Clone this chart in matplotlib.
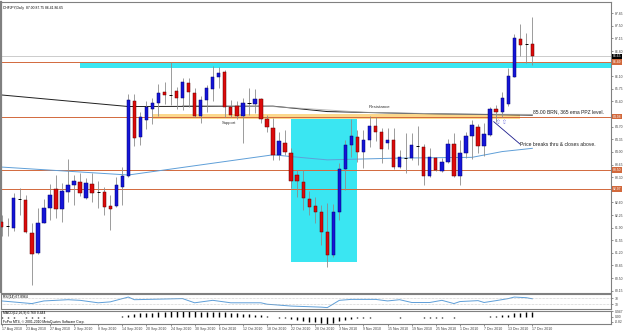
import numpy as np
import matplotlib.pyplot as plt
from matplotlib.transforms import blended_transform_factory
from matplotlib.patches import Rectangle

plt.rcParams['font.family'] = ['Liberation Sans', 'DejaVu Sans']

# daily OHLC, CHFJPY 17 Aug 2010 .. 17 Dec 2010
opens = [82.05, 81.95, 81.90, 82.70, 82.67, 81.76, 81.19, 82.04, 82.44, 82.97,
         82.42, 82.90, 83.08, 83.17, 82.73, 83.10, 82.88, 82.88, 82.51, 82.51,
         83.04, 83.34, 85.42, 84.41, 84.89, 85.20, 85.37, 85.67, 85.58, 85.69,
         85.51, 85.91, 85.63, 85.00, 85.44, 85.74, 86.09, 86.22, 85.26, 85.28,
         85.01, 85.35, 85.33, 85.46, 84.91, 84.66, 83.92, 84.26, 83.98, 83.36,
         83.16, 82.69, 82.50, 82.33, 81.77, 81.14, 82.33, 83.52, 84.19, 84.41,
         83.99, 84.33, 84.72, 84.56, 84.24, 84.33, 83.59, 83.83, 83.83, 84.17,
         84.15, 83.34, 83.83, 83.48, 83.73, 84.22, 83.34, 83.96, 84.43, 84.70,
         84.17, 84.47, 85.18, 85.12, 85.32, 86.09, 87.13, 86.99, 87.00]
closes = [81.93, 81.95, 82.72, 82.70, 81.78, 81.16, 82.04, 82.44, 82.81, 82.42,
          82.91, 83.09, 83.19, 82.87, 83.13, 82.85, 82.88, 82.48, 82.43, 83.08,
          83.33, 85.44, 84.40, 84.96, 85.24, 85.35, 85.63, 85.59, 85.58, 85.51,
          85.93, 85.65, 85.00, 85.44, 85.77, 86.07, 86.20, 85.26, 85.03, 85.01,
          85.35, 85.35, 85.46, 84.91, 84.69, 83.92, 84.29, 83.99, 83.20, 83.18,
          82.72, 82.47, 82.34, 81.79, 81.14, 82.34, 83.53, 84.19, 84.44, 84.01,
          84.33, 84.72, 84.56, 84.08, 84.33, 83.59, 83.85, 83.83, 84.20, 84.17,
          83.34, 83.85, 83.50, 83.73, 84.22, 83.34, 83.96, 84.44, 84.75, 84.17,
          84.50, 85.18, 85.12, 85.49, 86.11, 87.16, 86.97, 86.99, 86.65]
highs = [82.25, 82.16, 82.85, 82.99, 82.81, 82.02, 82.44, 82.69, 83.11, 83.36,
         83.15, 83.81, 83.36, 83.41, 83.27, 83.41, 83.20, 83.04, 82.81, 83.31,
         83.59, 85.60, 85.60, 85.12, 85.40, 85.49, 85.89, 85.95, 86.49, 85.80,
         86.06, 86.05, 85.77, 85.54, 85.86, 86.39, 86.35, 86.28, 85.43, 85.40,
         85.49, 85.77, 85.74, 85.49, 85.03, 84.94, 84.56, 84.61, 84.10, 83.50,
         83.50, 82.93, 82.76, 82.53, 82.58, 82.56, 83.69, 84.33, 84.91, 84.61,
         84.61, 85.00, 84.96, 84.66, 84.66, 84.66, 84.06, 84.52, 84.52, 84.72,
         84.22, 84.10, 83.87, 83.83, 84.35, 84.52, 84.33, 84.56, 84.89, 84.78,
         84.80, 85.26, 85.30, 85.65, 86.32, 87.28, 87.55, 87.30, 87.75]
lows = [81.67, 81.67, 81.82, 82.25, 81.74, 80.31, 81.17, 82.02, 82.11, 82.16,
        82.05, 82.62, 82.53, 82.78, 82.69, 82.60, 82.45, 82.25, 81.84, 82.48,
        82.53, 83.30, 84.17, 84.18, 84.63, 84.78, 85.00, 85.33, 85.31, 85.19,
        85.17, 85.24, 84.96, 84.81, 85.12, 85.42, 85.77, 84.96, 84.96, 84.91,
        84.24, 85.03, 85.09, 84.81, 84.56, 83.78, 83.78, 83.92, 82.99, 82.76,
        82.39, 82.25, 82.02, 81.42, 80.80, 81.09, 82.11, 82.95, 83.87, 83.73,
        83.55, 84.13, 84.29, 83.69, 84.08, 83.52, 83.55, 83.41, 83.78, 83.64,
        83.08, 83.31, 83.48, 83.45, 83.69, 83.31, 83.08, 83.83, 83.80, 83.96,
        83.89, 84.43, 84.84, 84.98, 85.28, 86.07, 86.65, 86.48, 86.41]

date_labels = ['17 Aug 2010', '23 Aug 2010', '27 Aug 2010', '2 Sep 2010', '8 Sep 2010',
               '14 Sep 2010', '20 Sep 2010', '24 Sep 2010', '30 Sep 2010', '6 Oct 2010',
               '12 Oct 2010', '18 Oct 2010', '22 Oct 2010', '28 Oct 2010', '3 Nov 2010',
               '9 Nov 2010', '15 Nov 2010', '19 Nov 2010', '25 Nov 2010', '1 Dec 2010',
               '7 Dec 2010', '13 Dec 2010', '17 Dec 2010']

# moving averages (sampled at some bars)
ema_slow_idx = [0, 21, 45, 54, 67, 88]
ema_slow_val = [85.58, 85.26, 85.27, 85.12, 85.07, 85.02]
sma_gray_idx = [30, 45, 60, 75, 88]
sma_gray_val = [85.29, 85.26, 85.10, 85.05, 85.04]
ma_blue_idx = [0, 21, 45, 50, 54, 66, 78, 83, 88]
ma_blue_val = [83.58, 83.36, 83.92, 83.84, 83.78, 83.83, 83.85, 84.01, 84.10]

rsi_idx = [0, 5, 7, 11, 13, 16, 18, 21, 22, 30, 32, 35, 38, 43, 44, 48, 53, 54, 56,
           58, 62, 64, 66, 68, 71, 73, 75, 76, 79, 80, 82, 84, 85, 87, 88]
rsi_val = [52, 35, 52, 60, 56, 40, 46, 77, 60, 67, 40, 56, 40, 40, 31, 19, 12, 9, 56,
           62, 62, 52, 60, 42, 42, 56, 35, 48, 54, 42, 54, 67, 77, 73, 66]

macd = [-0.10, -0.12, -0.10, -0.08, -0.12, -0.20,
        -0.18, -0.12, -0.08, -0.06, -0.04,
        0.02, 0.05, 0.06, 0.07, 0.06, 0.05,
        0.02, -0.02, 0.02, 0.08,
        0.35,
        0.50, 0.58, 0.66, 0.72, 0.80, 0.85,
        0.90, 0.92, 0.95, 0.95, 0.90, 0.88,
        0.86, 0.85, 0.86, 0.80, 0.72, 0.62,
        0.52, 0.45, 0.40, 0.30, 0.18,
        0.00, -0.10, -0.18,
        -0.35, -0.50, -0.65, -0.78, -0.88, -1.00,
        -1.10, -0.95, -0.72,
        -0.48, -0.32, -0.24, -0.18, -0.10, -0.06,
        -0.06, -0.05, -0.08, -0.09, -0.08, -0.06, -0.05, -0.09, -0.10, -0.10, -0.10, -0.07, -0.09,
        -0.07, -0.03, 0.03, 0.04, 0.05, 0.14,
        0.20, 0.28, 0.40,
        0.58, 0.72, 0.80, 0.82]

levels = [86.49, 84.98, 83.50, 82.97]
bid = 86.65
price_ticks = [87.85, 87.50, 87.15, 86.80, 86.10, 85.75, 85.40, 84.70, 84.35, 84.00,
               83.65, 83.30, 82.60, 82.25, 81.90, 81.55, 81.20, 80.85, 80.50, 80.15]

o = np.array(opens); c = np.array(closes); h = np.array(highs); l = np.array(lows)
n = len(o)
x = np.arange(n)

W, H = 625, 331
fig = plt.figure(figsize=(W / 100, H / 100), dpi=100)
def box(left, top, right, bottom):
    return [left / W, 1 - bottom / H, (right - left) / W, (bottom - top) / H]

ax = fig.add_axes(box(1, 2, 611, 292.5))
ax_rsi = fig.add_axes(box(1, 293.5, 611, 309), sharex=ax)
ax_macd = fig.add_axes(box(1, 310.5, 611, 324), sharex=ax)

orange = '#d2693c'
cyan = '#3ae6f2'
fs = 2.4

# background objects
ax.axhspan(86.34, 86.46, xmin=(13 + 0.116) / 101.16, xmax=1, color=cyan, lw=0, zorder=1)
ax.add_patch(Rectangle((48, 80.94), 11, 84.91 - 80.94, color=cyan, lw=0, zorder=1))
ax.add_patch(Rectangle((25, 84.90), 61, 0.14, color='#fbd88c', lw=0, zorder=1))
for lv in levels:
    ax.axhline(lv, color=orange, lw=0.7, zorder=2)
ax.axhline(bid, color='#c4c4c4', lw=0.6, zorder=2)

ax.plot(ema_slow_idx, ema_slow_val, color='#202020', lw=0.7, zorder=2)
ax.plot(sma_gray_idx, sma_gray_val, color='#a8a8a8', lw=0.7, zorder=2, alpha=0.8)
ax.plot(ma_blue_idx, ma_blue_val, color='#5f9fd8', lw=0.7, zorder=2)

# candles
bw = 0.55
ax.vlines(x, l, h, color='#8c8c8c', lw=0.6, zorder=3)
up = c > o + 0.005
dn = c < o - 0.005
dj = ~(up | dn)
ax.bar(x[up], c[up] - o[up], bottom=o[up], width=bw, color='#1414d8',
       edgecolor='#000070', lw=0.35, zorder=4)
ax.bar(x[dn], o[dn] - c[dn], bottom=c[dn], width=bw, color='#dc0a0a',
       edgecolor='#600000', lw=0.35, zorder=4)
ax.hlines(o[dj], x[dj] - bw / 2, x[dj] + bw / 2, color='black', lw=0.7, zorder=4)

# annotations
ax.text(36.5, 84.80, 'Support', fontsize=3.0, color='#303030', va='center', zorder=5)
ax.text(60.9, 85.25, 'Resistance', fontsize=3.2, color='#303030', va='center', zorder=5)
ax.text(88.1, 85.11, '85.00 BRN, 365 ema PPZ level.', fontsize=3.6, color='#202020',
        va='center', zorder=5)
ax.plot([81.6, 85.95], [84.84, 84.22], color='#1a1a8c', lw=0.6, zorder=5)
ax.text(86.0, 84.22, 'Price breaks thru & closes above.', fontsize=3.6, color='#202020',
        va='center', zorder=5)
for bx in (82.2, 83.2):
    ax.text(bx, 84.81, '\u21e7', family='DejaVu Sans', fontsize=4.2, color='#7070e0',
            ha='center', va='center', zorder=5)

ax.text(0.004, 0.985, 'CHFJPY,Daily  87.00 87.75 86.41 86.65', transform=ax.transAxes,
        fontsize=fs, va='top', color='black')

ax.set_xlim(-0.116, 101.05)
ax.set_ylim(80.10, 88.16)

# price scale
ax.yaxis.tick_right()
ax.set_yticks(price_ticks)
ax.set_yticklabels(['%.2f' % v for v in price_ticks])
trans = blended_transform_factory(ax.transAxes, ax.transData)
for lv in levels:
    ax.text(1.0025, lv, '%.2f' % lv, transform=trans, fontsize=fs, color='white',
            va='center', ha='left', clip_on=False,
            bbox=dict(boxstyle='square,pad=0.25', fc=orange, ec='none'))
ax.text(1.0025, bid, '%.2f' % bid, transform=trans, fontsize=fs, color='white',
        va='center', ha='left', clip_on=False,
        bbox=dict(boxstyle='square,pad=0.25', fc='black', ec='none'))

# RSI
ax_rsi.plot(rsi_idx, rsi_val, color='#5f9fd8', lw=0.7)
for lv in (70, 30):
    ax_rsi.axhline(lv, color='#a0a0a0', lw=0.4, ls=(0, (1, 1.5)))
ax_rsi.set_ylim(0, 100)
ax_rsi.yaxis.tick_right()
ax_rsi.set_yticks([70, 30])
ax_rsi.text(0.004, 0.93, 'RSI(14) 67.8964', transform=ax_rsi.transAxes, fontsize=fs, va='top')

# MACD
ax_macd.vlines(x, 0, macd, color='black', lw=1.0)
ax_macd.set_ylim(-1.15, 1.06)
ax_macd.yaxis.tick_right()
ax_macd.set_yticks([0.947, 0.0, -0.82])
ax_macd.set_yticklabels(['0.947', '0.00', '-0.82'])
ax_macd.text(0.004, 0.93, 'MACD(12,26,9) 0.760 0.444', transform=ax_macd.transAxes,
             fontsize=fs, va='top')
ax_macd.text(0.004, 0.30, 'FxPro MT4, \u00a9 2001-2010 MetaQuotes Software Corp.',
             transform=ax_macd.transAxes, fontsize=fs, va='top')

ax_macd.set_xticks(np.arange(0, n, 4))
ax_macd.set_xticklabels(date_labels, ha='left')

for a in (ax, ax_rsi, ax_macd):
    for s in a.spines.values():
        s.set_color('#808080')
        s.set_linewidth(0.8)
    a.tick_params(axis='y', labelsize=fs, length=1.5, width=0.4, pad=1, colors='#404040')
    a.tick_params(axis='x', labelsize=2.5, length=1.5, width=0.4, pad=0.6, colors='#404040')
    a.set_facecolor('white')
ax.tick_params(axis='x', labelbottom=False, length=0)
ax_rsi.tick_params(axis='x', labelbottom=False, length=0)
ax.spines['left'].set_linewidth(1.6)

fig.savefig('out.png', dpi=100)
